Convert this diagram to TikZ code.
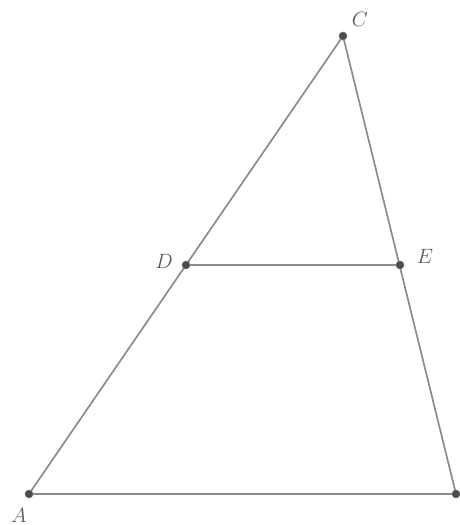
\documentclass[tikz,border=0pt]{standalone}
\begin{document}
\begin{tikzpicture}[x=1pt,y=-1pt,
  seg/.style={draw=black!45,line width=1.7pt},
  pt/.style={circle,fill=black!70,draw=black!55,line width=0.5pt,inner sep=0pt,minimum size=8pt},
  lbl/.style={text=black!65,font=\fontsize{21}{24}\selectfont\itshape,inner sep=0pt}]
\useasboundingbox (0,0) rectangle (460,525);
\coordinate (A) at (29,494);
\coordinate (B) at (456,494);
\coordinate (C) at (343,36);
\coordinate (D) at (186,265);
\coordinate (E) at (400,265);
\draw[seg] (A) -- (C) -- (B) -- cycle;
\draw[seg] (D) -- (E);
\node[pt] (pA) at (A) {};
\node[pt] (pB) at (B) {};
\node[pt] (pC) at (C) {};
\node[pt] (pD) at (D) {};
\node[pt] (pE) at (E) {};
\node[lbl] (lA) at (19,515) {$A$};
\node[lbl] (lC) at (360,19) {$C$};
\node[lbl] (lD) at (164,261) {$D$};
\node[lbl] (lE) at (425,256) {$E$};
\end{tikzpicture}
\end{document}
